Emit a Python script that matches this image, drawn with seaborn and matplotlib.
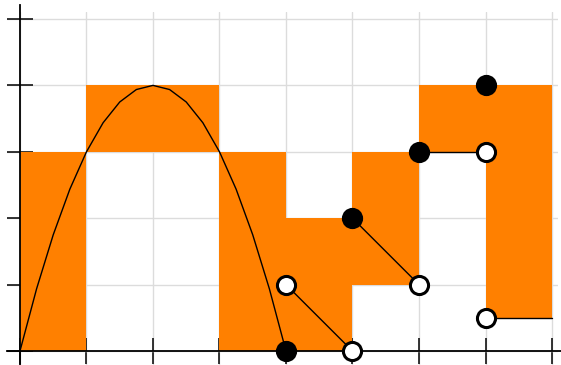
import matplotlib
matplotlib.use("Agg")
import matplotlib.pyplot as plt
import seaborn as sns
import pandas as pd

# step regions: interval edges and lower/upper bound for each interval
edges = [0, 1, 2, 3, 4, 5, 6, 7, 8]
lower = [0, 3, 3, 0, 0, 1, 3, 0.5]
upper = [3, 4, 4, 3, 2, 3, 4, 4]

# sampled curve
curve_x = [0, 0.25, 0.5, 0.75, 1, 1.25, 1.5, 1.75, 2, 2.25, 2.5, 2.75, 3, 3.25, 3.5, 3.75, 4]
curve_y = [0, 0.9375, 1.75, 2.4375, 3, 3.4375, 3.75, 3.9375, 4, 3.9375, 3.75, 3.4375, 3, 2.4375, 1.75, 0.9375, 0]

# line segments (start/end)
seg_id = [0, 0, 1, 1, 2, 2, 3, 3]
seg_x = [4, 5, 5, 6, 6, 7, 7, 8]
seg_y = [1, 0, 2, 1, 3, 3, 0.5, 0.5]

# points
filled_x = [4, 5, 6, 7]
filled_y = [0, 2, 3, 4]
open_x = [4, 5, 6, 7, 7]
open_y = [1, 0, 1, 3, 0.5]

sns.set_style("white")
fig = plt.figure(figsize=(5.61, 3.65), dpi=100)
ax = fig.add_axes([7 / 561, 0, 551 / 561, 353 / 365])
ax.set_xlim(-0.195, 8.09)
ax.set_ylim(-0.21, 5.105)

ax.grid(True, color="#dcdcdc", linewidth=1.0, zorder=0)
ax.set_axisbelow(True)

ax.fill_between(edges, lower + [lower[-1]], upper + [upper[-1]], step="post",
                color="#ff8000", linewidth=0, zorder=1)

sns.lineplot(x=curve_x, y=curve_y, sort=False, color="black", linewidth=1.0, ax=ax, zorder=2)
segs = pd.DataFrame({"seg": seg_id, "x": seg_x, "y": seg_y})
sns.lineplot(data=segs, x="x", y="y", units="seg", estimator=None, sort=False,
             color="black", linewidth=1.0, ax=ax, zorder=2)

sns.scatterplot(x=filled_x, y=filled_y, color="black", s=190, edgecolor="black",
                linewidth=1.5, ax=ax, zorder=4, clip_on=False)
sns.scatterplot(x=open_x, y=open_y, color="white", s=170, edgecolor="black",
                linewidth=2.2, ax=ax, zorder=4, clip_on=False)

ax.spines["left"].set_position(("data", 0))
ax.spines["bottom"].set_position(("data", 0))
ax.spines["top"].set_visible(False)
ax.spines["right"].set_visible(False)
for s in ("left", "bottom"):
    ax.spines[s].set_color("black")
    ax.spines[s].set_linewidth(1.3)
    ax.spines[s].set_zorder(3)
ax.spines["left"].set_bounds(-0.21, 5.21)
ax.spines["bottom"].set_bounds(-0.195, 8.14)

ax.set_xticks(edges)
ax.set_yticks([0, 1, 2, 3, 4, 5])
ax.tick_params(direction="inout", length=19, width=1.1, color="black",
               labelbottom=False, labelleft=False, bottom=True, left=True)
ax.set_xlabel("")
ax.set_ylabel("")

fig.savefig("out.png", dpi=100)
